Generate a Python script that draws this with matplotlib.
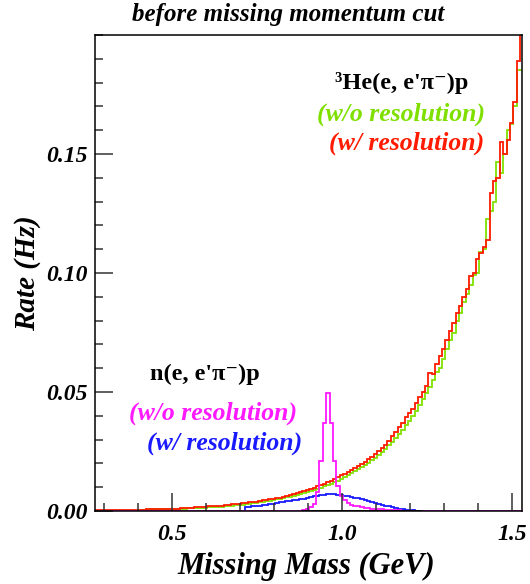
import numpy as np
import matplotlib
matplotlib.use("Agg")
import matplotlib.pyplot as plt
from matplotlib.ticker import MultipleLocator, FormatStrFormatter

# Histogram binning (GeV)
bin_start = 0.273
bin_width = 0.01
n_bins = 126

# 3He(e,e'pi-)p, with resolution
he3_res = [
    0.0006, 0.0006, 0.0006, 0.0006, 0.0006, 0.0006, 0.0006, 0.0006, 0.0006, 0.0006,
    0.0006, 0.0006, 0.0004, 0.0004, 0.0005, 0.0008, 0.0008, 0.0008, 0.0008, 0.0009,
    0.0008, 0.0009, 0.0008, 0.0009, 0.0009, 0.0012, 0.0012, 0.0012, 0.0013, 0.0016,
    0.0016, 0.0016, 0.0017, 0.0019, 0.0019, 0.0020, 0.0021, 0.0021, 0.0024, 0.0025,
    0.0029, 0.0029, 0.0030, 0.0034, 0.0034, 0.0036, 0.0039, 0.0039, 0.0041, 0.0045,
    0.0046, 0.0049, 0.0051, 0.0054, 0.0056, 0.0060, 0.0063, 0.0066, 0.0070, 0.0074,
    0.0079, 0.0082, 0.0088, 0.0093, 0.0098, 0.0104, 0.0110, 0.0115, 0.0121, 0.0128,
    0.0136, 0.0141, 0.0150, 0.0156, 0.0165, 0.0171, 0.0180, 0.0187, 0.0196, 0.0206,
    0.0217, 0.0226, 0.0238, 0.0251, 0.0266, 0.0278, 0.0296, 0.0316, 0.0330, 0.0352,
    0.0368, 0.0395, 0.0413, 0.0430, 0.0455, 0.0478, 0.0500, 0.0527, 0.0580, 0.0575,
    0.0616, 0.0650, 0.0680, 0.0720, 0.0756, 0.0790, 0.0830, 0.0862, 0.0900, 0.0932,
    0.0987, 0.1000, 0.1060, 0.1086, 0.1110, 0.1140, 0.1338, 0.1387, 0.1400, 0.1550,
    0.1500, 0.1560, 0.1630, 0.1720, 0.1890, 0.2100,
]

# 3He(e,e'pi-)p, without resolution
he3_nores = [
    0.0, 0.0, 0.0, 0.0, 0.0, 0.0, 0.0, 0.0, 0.0, 0.0,
    0.0, 0.0, 0.0, 0.0006, 0.0006, 0.0006, 0.0007, 0.0007, 0.0007, 0.0008,
    0.0008, 0.0008, 0.0008, 0.0008, 0.0009, 0.0009, 0.0010, 0.0011, 0.0012, 0.0012,
    0.0012, 0.0013, 0.0014, 0.0015, 0.0016, 0.0017, 0.0018, 0.0018, 0.0019, 0.0021,
    0.0022, 0.0024, 0.0026, 0.0027, 0.0029, 0.0031, 0.0033, 0.0035, 0.0036, 0.0039,
    0.0041, 0.0043, 0.0046, 0.0049, 0.0051, 0.0054, 0.0057, 0.0060, 0.0063, 0.0067,
    0.0071, 0.0075, 0.0079, 0.0083, 0.0088, 0.0093, 0.0098, 0.0103, 0.0109, 0.0115,
    0.0121, 0.0128, 0.0135, 0.0142, 0.0150, 0.0158, 0.0166, 0.0175, 0.0184, 0.0193,
    0.0203, 0.0214, 0.0224, 0.0236, 0.0249, 0.0262, 0.0276, 0.0291, 0.0306, 0.0322,
    0.0340, 0.0360, 0.0380, 0.0400, 0.0420, 0.0445, 0.0470, 0.0495, 0.0520, 0.0550,
    0.0585, 0.0600, 0.0640, 0.0680, 0.0720, 0.0750, 0.0800, 0.0830, 0.0880, 0.0910,
    0.0950, 0.0990, 0.1000, 0.1090, 0.1100, 0.1226, 0.1260, 0.1300, 0.1466, 0.1420,
    0.1500, 0.1600, 0.1626, 0.1700, 0.1855, 0.1855,
]

# n(e,e'pi-)p, with resolution
n_res = [
    0.0, 0.0, 0.0, 0.0, 0.0, 0.0, 0.0, 0.0, 0.0, 0.0,
    0.0, 0.0, 0.0, 0.0, 0.0, 0.0, 0.0, 0.0, 0.0, 0.0,
    0.0, 0.0, 0.0, 0.0, 0.0, 0.0, 0.0, 0.0, 0.0, 0.0,
    0.0, 0.0, 0.0, 0.0, 0.0, 0.0, 0.0, 0.0, 0.0, 0.0,
    0.0, 0.0, 0.0, 0.0, 0.0017, 0.0018, 0.0019, 0.0021, 0.0023, 0.0025,
    0.0027, 0.0029, 0.0031, 0.0033, 0.0036, 0.0039, 0.0041, 0.0043, 0.0045, 0.0047,
    0.0049, 0.0052, 0.0055, 0.0058, 0.0061, 0.0064, 0.0066, 0.0068, 0.0070, 0.0071,
    0.0070, 0.0068, 0.0066, 0.0063, 0.0061, 0.0059, 0.0056, 0.0053, 0.0049, 0.0045,
    0.0041, 0.0037, 0.0033, 0.0029, 0.0026, 0.0022, 0.0019, 0.0015, 0.0012, 0.0009,
    0.0007, 0.0005, 0.0004, 0.0003, 0.0002, 0.0, 0.0, 0.0, 0.0, 0.0,
    0.0, 0.0, 0.0, 0.0, 0.0, 0.0, 0.0, 0.0, 0.0, 0.0,
    0.0, 0.0, 0.0, 0.0, 0.0, 0.0, 0.0, 0.0, 0.0, 0.0,
    0.0, 0.0, 0.0, 0.0, 0.0, 0.0,
]

# n(e,e'pi-)p, without resolution
n_nores = [
    0.0, 0.0, 0.0, 0.0, 0.0, 0.0, 0.0, 0.0, 0.0, 0.0,
    0.0, 0.0, 0.0, 0.0, 0.0, 0.0, 0.0, 0.0, 0.0, 0.0,
    0.0, 0.0, 0.0, 0.0, 0.0, 0.0, 0.0, 0.0, 0.0, 0.0,
    0.0, 0.0, 0.0, 0.0, 0.0, 0.0, 0.0, 0.0, 0.0, 0.0,
    0.0, 0.0, 0.0, 0.0, 0.0, 0.0, 0.0, 0.0, 0.0, 0.0,
    0.0, 0.0, 0.0, 0.0, 0.0, 0.0, 0.0, 0.0, 0.0, 0.0,
    0.0, 0.0003, 0.0008, 0.0015, 0.0030, 0.0080, 0.0210, 0.0370, 0.0497, 0.0370,
    0.0210, 0.0104, 0.0065, 0.0045, 0.0035, 0.0027, 0.0022, 0.0019, 0.0016, 0.0014,
    0.0012, 0.0010, 0.0009, 0.0008, 0.0007, 0.0006, 0.0005, 0.0004, 0.0003, 0.0003,
    0.0002, 0.0002, 0.0002, 0.0001, 0.0001, 0.0001, 0.0001, 0.0001, 0.0001, 0.0001,
    0.0001, 0.0, 0.0, 0.0, 0.0, 0.0, 0.0, 0.0, 0.0, 0.0,
    0.0, 0.0, 0.0, 0.0, 0.0, 0.0, 0.0, 0.0, 0.0, 0.0,
    0.0, 0.0, 0.0, 0.0, 0.0, 0.0,
]

# empty reference histogram range (GeV)
empty_range = [0.883, 1.233]

x_ticks = [0.5, 1.0, 1.5]
y_ticks = [0.00, 0.05, 0.10, 0.15]

GREEN = "#7fe000"
RED = "#ff1a00"
BLUE = "#1a1aff"
MAGENTA = "#ff1aff"

plt.rcParams["font.family"] = ["Liberation Serif", "DejaVu Serif"]

W, H = 530, 584
fig = plt.figure(figsize=(W / 100, H / 100), dpi=100)
ax = fig.add_axes([95 / W, 1 - 511 / H, (521.5 - 95) / W, (511 - 35) / H])

edges = bin_start + bin_width * np.arange(n_bins + 1)
lw = 1.3
ax.stairs(he3_nores, edges, baseline=None, color=GREEN, lw=lw)
ax.stairs(he3_res, edges, baseline=None, color=RED, lw=lw)
ax.stairs(n_res, edges, baseline=None, color=BLUE, lw=lw)
ax.stairs(n_nores, edges, baseline=None, color=MAGENTA, lw=lw)
ax.hlines(0, empty_range[0], empty_range[1], color="black", lw=lw)

ax.set_xlim(0.273, 1.527)
ax.set_ylim(0, 0.2)

ax.xaxis.set_major_locator(plt.FixedLocator(x_ticks))
ax.xaxis.set_minor_locator(MultipleLocator(0.1))
ax.yaxis.set_major_locator(plt.FixedLocator(y_ticks))
ax.yaxis.set_minor_locator(MultipleLocator(0.01))
ax.xaxis.set_major_formatter(FormatStrFormatter("%.1f"))
ax.yaxis.set_major_formatter(FormatStrFormatter("%.2f"))
ax.tick_params(which="both", direction="in", top=False, right=False, width=1.1, color="#333333")
ax.tick_params(which="major", length=13)
ax.tick_params(which="minor", length=6)
ax.tick_params(axis="x", which="major", pad=9)
ax.tick_params(axis="y", which="major", pad=5)
for lab in ax.get_xticklabels() + ax.get_yticklabels():
    lab.set_fontsize(17)
    lab.set_fontweight("bold")
    lab.set_fontstyle("italic")
for sp in ax.spines.values():
    sp.set_linewidth(1.1)

ax.set_xlabel("Missing Mass (GeV)", fontsize=22, fontweight="bold", fontstyle="italic")
ax.set_ylabel("Rate (Hz)", fontsize=21, fontweight="bold", fontstyle="italic")
ax.xaxis.set_label_coords((306 - 95) / (521.5 - 95), -(566 - 511) / (511 - 35))
ax.yaxis.set_label_coords(-(95 - 28) / (521.5 - 95), (511 - 273) / (511 - 35))
ax.xaxis.label.set_va("center")
ax.yaxis.label.set_va("center")


def ftext(px, py, s, **kw):
    fig.text(px / W, 1 - py / H, s, va="center", **kw)


ftext(288, 14, "before missing momentum cut", ha="center", fontsize=18,
      fontweight="bold", fontstyle="italic")

ftext(402, 83, "³He(e, e'π⁻)p", ha="center", fontsize=17.5, fontweight="bold")
ftext(485, 114, "(w/o resolution)", ha="right", fontsize=18.5, fontweight="bold",
      fontstyle="italic", color=GREEN)
ftext(484, 143, "(w/ resolution)", ha="right", fontsize=18.5, fontweight="bold",
      fontstyle="italic", color=RED)

ftext(205, 374, "n(e, e'π⁻)p", ha="center", fontsize=17.5, fontweight="bold")
ftext(297, 413, "(w/o resolution)", ha="right", fontsize=18.5, fontweight="bold",
      fontstyle="italic", color=MAGENTA)
ftext(302, 443, "(w/ resolution)", ha="right", fontsize=18.5, fontweight="bold",
      fontstyle="italic", color=BLUE)

fig.savefig("out.png", dpi=100)
